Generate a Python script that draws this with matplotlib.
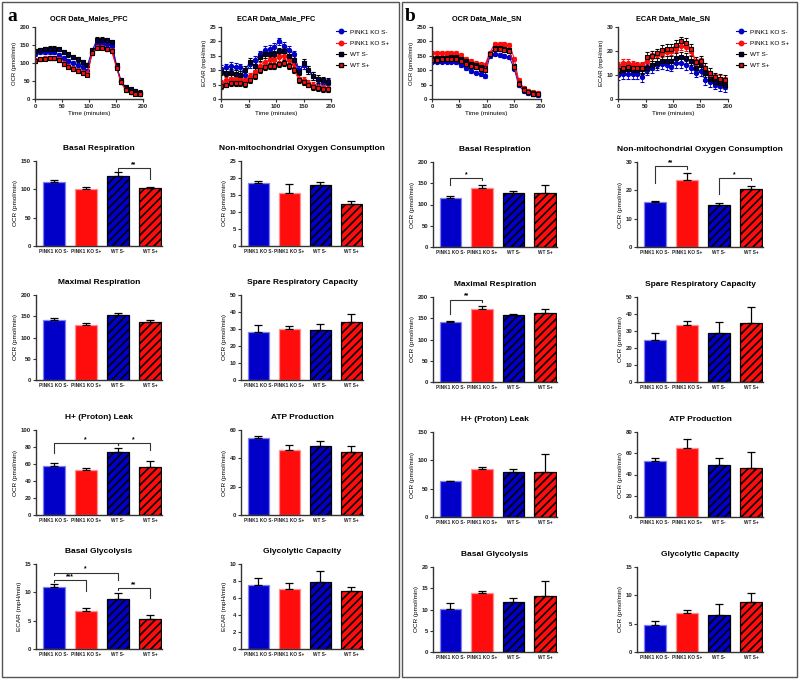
import matplotlib
matplotlib.use('Agg')
import matplotlib.pyplot as plt
from matplotlib.patches import Rectangle
from matplotlib.lines import Line2D

plt.rcParams['font.family'] = ['Liberation Sans', 'DejaVu Sans']
plt.rcParams['font.weight'] = 'bold'
plt.rcParams['hatch.linewidth'] = 1.2

W, H = 800, 679

GROUPS = ['PINK1 KO S-', 'PINK1 KO S+', 'WT S-', 'WT S+']

# time course (minutes)
TIME = [0, 9, 18, 27, 35, 44, 53, 62, 71, 80, 89, 97, 106, 115, 124, 133, 142, 151, 159, 168, 177, 186, 195]

# panel a - PFC
A_OCR_KO_SM = [126, 131, 131, 131, 131, 122, 114, 106, 99, 94, 89, 78, 128, 154, 154, 152, 147, 89, 50, 29, 23, 20, 17]
A_OCR_KO_SP = [108, 112, 114, 114, 114, 110, 99, 91, 85, 80, 76, 71, 131, 145, 145, 140, 135, 89, 48, 27, 20, 16, 14]
A_OCR_WT_SM = [134, 137, 139, 140, 140, 138, 131, 124, 117, 110, 103, 94, 135, 165, 165, 163, 158, 94, 52, 32, 27, 22, 18]
A_OCR_WT_SP = [106, 110, 112, 113, 113, 108, 97, 89, 82, 77, 73, 68, 128, 143, 143, 138, 133, 87, 46, 25, 19, 15, 13]
A_OCR_ERR = [6, 5, 6, 5]

A_ECAR_KO_SM = [10.5, 11, 11.5, 11.2, 11, 8.5, 12, 13.5, 15.5, 17, 17.5, 18, 20, 18.5, 17, 15.5, 10, 11.7, 10, 8, 6.5, 6, 5.5]
A_ECAR_KO_SP = [5.5, 6.5, 7, 6.8, 6.8, 6.5, 8, 9.5, 11.5, 13, 13.5, 13.5, 14.5, 15, 13.5, 12, 7, 6.5, 5.5, 4.8, 4.2, 4, 3.8]
A_ECAR_WT_SM = [9.5, 9.2, 9, 8.8, 8.5, 10, 13, 11.5, 14.5, 15.5, 15.5, 15.5, 16.5, 16.5, 15, 13.5, 9.5, 12.5, 10, 8, 7, 6.5, 6]
A_ECAR_WT_SP = [4.5, 5, 5.5, 5.5, 5.5, 5.2, 6.5, 8, 10, 11, 11.5, 11.5, 12, 12.5, 11.5, 10, 6.5, 6, 5, 4.2, 3.8, 3.5, 3.3]
A_ECAR_ERR = [1.3, 1.2, 1.3, 1.0]

# panel b - SN
B_OCR_KO_SM = [130, 130, 130, 130, 130, 128, 118, 108, 97, 92, 87, 80, 148, 155, 152, 150, 145, 105, 48, 28, 20, 16, 14]
B_OCR_KO_SP = [158, 161, 161, 161, 161, 161, 152, 140, 131, 126, 123, 118, 160, 192, 192, 192, 189, 140, 66, 37, 27, 23, 21]
B_OCR_WT_SM = [140, 142, 143, 144, 145, 146, 140, 132, 122, 117, 112, 107, 155, 178, 177, 175, 170, 115, 55, 33, 24, 20, 17]
B_OCR_WT_SP = [135, 137, 138, 140, 140, 138, 132, 123, 115, 110, 105, 100, 157, 172, 172, 170, 167, 112, 52, 32, 23, 19, 17]
B_OCR_ERR = [6, 7, 8, 6]

B_ECAR_KO_SM = [10, 10.5, 10.5, 10.5, 10.5, 9, 12, 13, 14, 14.5, 14, 13.5, 15, 15, 14, 13, 11, 11.5, 8, 7, 6, 5.5, 5]
B_ECAR_KO_SP = [14, 15, 15, 14.5, 14, 14, 16, 17.5, 18.5, 19, 19.5, 20, 21, 22, 21.5, 20, 15, 15.5, 12, 10, 9, 8.5, 7.5]
B_ECAR_WT_SM = [11.5, 12, 12.5, 12, 12, 12.5, 13, 14, 15, 16, 16, 16, 17, 17.5, 17, 16, 13, 14, 11, 8.5, 7, 6.5, 6]
B_ECAR_WT_SP = [12, 13, 13.5, 13, 13, 13, 17.5, 18, 19, 20.5, 21, 21, 22.5, 24, 23.5, 21, 15.5, 16, 13, 11, 9, 8.5, 8]
B_ECAR_ERR = [2, 1.5, 2, 2]

# bar summaries
A_TITLES = ['Basal Respiration', 'Non-mitochondrial Oxygen Consumption', 'Maximal Respiration',
            'Spare Respiratory Capacity', 'H+ (Proton) Leak', 'ATP Production',
            'Basal Glycolysis', 'Glycolytic Capacity']
A_YLABELS = ['OCR (pmol/min)'] * 6 + ['ECAR (mpH/min)'] * 2
A_MEANS = [[113, 100, 123, 102], [18.5, 15.6, 17.8, 12.5], [142, 130, 153, 136], [28.5, 30, 29.5, 34],
           [58, 53, 74, 57], [54.5, 46, 48.5, 44.5], [11, 6.7, 8.8, 5.3], [7.5, 7.1, 7.85, 6.8]]
A_ERRS = [[3, 5, 7, 2], [0.7, 2.7, 1.0, 0.6], [5, 3, 4, 6], [4, 1.5, 3.5, 5],
          [3, 2, 5, 6], [1.5, 3.5, 3.5, 4.5], [0.5, 0.5, 1.0, 0.7], [0.85, 0.7, 1.3, 0.55]]
A_YMAX = [150, 25, 200, 50, 100, 60, 15, 10]
A_YSTEP = [50, 5, 50, 10, 20, 20, 5, 2]
# (chart, bar i, bar j, line y, leg end i, leg end j, label)
A_SIG = [(0, 2, 3, 137, 132, 119, '**'),
         (4, 0, 2, 85, 73, 82, '*'), (4, 2, 3, 85, 82, 76, '*'),
         (6, 0, 2, 13.5, 13.1, 12.1, '*'), (6, 0, 1, 12.1, 11.8, 10.3, '***'),
         (6, 2, 3, 10.7, 10.4, 9.0, '**')]

B_TITLES = A_TITLES
B_YLABELS = ['OCR (pmol/min)'] * 8
B_MEANS = [[116, 139, 127, 127], [15.8, 23.5, 15, 20.3], [141, 172, 157, 162], [24.5, 33.5, 29, 35],
           [63, 85, 79, 80], [52.5, 64.5, 48.5, 46.5], [10.2, 13.8, 11.7, 13.1], [4.8, 6.9, 6.6, 8.9]]
B_ERRS = [[4, 7, 4, 19], [0.6, 2.6, 0.6, 1.2], [2, 8, 2, 10], [4.5, 2.5, 6.5, 9],
          [1, 4, 5, 32], [3.5, 9, 7, 15], [1.4, 0.6, 1.0, 3.7], [0.7, 0.5, 1.8, 1.6]]
B_YMAX = [200, 30, 200, 50, 150, 80, 20, 15]
B_YSTEP = [50, 10, 50, 10, 50, 20, 5, 5]
B_SIG = [(0, 0, 1, 162, 147, 157, '*'),
         (1, 0, 1, 28.6, 22.6, 27.6, '**'), (1, 2, 3, 24.4, 18.6, 23.5, '*'),
         (2, 0, 1, 194, 161, 188, '**')]

BLUE = '#0000c8'
RED = '#ff0d0d'
FACES = [BLUE, RED, BLUE, RED]
EDGES = ['#8080f0', '#ff9090', 'black', 'black']
HATCHES = [None, None, '////', '////']
AXC = '#333333'


def px_axes(fig, x0, y0, x1, y1):
    return fig.add_axes([x0 / W, 1 - y1 / H, (x1 - x0) / W, (y1 - y0) / H])


def style(ax):
    for s in ['top', 'right']:
        ax.spines[s].set_visible(False)
    for s in ['left', 'bottom']:
        ax.spines[s].set_linewidth(1.0)
        ax.spines[s].set_color(AXC)
    ax.tick_params(colors=AXC, width=0.8, length=2, pad=1.5, labelsize=4.3, labelcolor='#222222')


def line_chart(ax, series, errs, ymax, ystep, title, ylabel):
    specs = [dict(marker='o', color=BLUE, mfc=BLUE, mec=BLUE),
             dict(marker='o', color=RED, mfc=RED, mec=RED),
             dict(marker='s', color=BLUE, mfc='#000050', mec='black'),
             dict(marker='s', color=RED, mfc=RED, mec='black')]
    for vals, err, sp in zip(series, errs, specs):
        ax.errorbar(TIME, vals, yerr=err, marker=sp['marker'], color=sp['color'], mfc=sp['mfc'],
                    mec=sp['mec'], ms=3.0, mew=0.8, lw=0.7, elinewidth=0.6, ecolor=sp['mec'],
                    capsize=1.2, capthick=0.6)
    style(ax)
    ax.set_xlim(0, 200)
    ax.set_ylim(0, ymax)
    ax.set_xticks([0, 50, 100, 150, 200])
    ax.set_yticks(range(0, ymax + 1, ystep))
    ax.set_title(title, fontsize=5.3, fontweight='bold', pad=5)
    ax.set_ylabel(ylabel, fontsize=4.3, labelpad=2)
    ax.set_xlabel('Time (minutes)', fontsize=4.6, labelpad=1.5)


def bar_chart(ax, means, errs, ymax, ystep, title, ylabel):
    x = range(len(GROUPS))
    for i in x:
        ax.bar(i, means[i], width=0.68, color=FACES[i], edgecolor=EDGES[i],
               hatch=HATCHES[i], linewidth=0.9, zorder=2)
    ax.errorbar(list(x), means, yerr=[[0] * 4, errs], fmt='none', ecolor='black',
                elinewidth=0.9, capsize=3, capthick=0.9, zorder=3)
    style(ax)
    ax.set_xlim(-0.55, 3.38)
    ax.set_ylim(0, ymax)
    ax.set_yticks(range(0, ymax + 1, ystep))
    ax.set_xticks(list(x))
    ax.set_xticklabels(GROUPS, fontsize=3.4)
    ax.tick_params(axis='x', length=0, pad=2.5)
    ax.set_title(title, fontsize=6, fontweight='bold', pad=8)
    ax.set_ylabel(ylabel, fontsize=4.6, labelpad=2)


def sig(ax, i, j, y, yi, yj, label):
    ax.plot([i, i, j, j], [yi, y, y, yj], color='#333333', lw=0.8, zorder=4, clip_on=False)
    ax.text((i + j) / 2, y, label, ha='center', va='bottom', fontsize=4.8, zorder=4)


fig = plt.figure(figsize=(8, 6.79), dpi=100)

# panel frames
fig.add_artist(Rectangle((2 / W, 2 / H), 397 / W, 675 / H, transform=fig.transFigure,
                         fill=False, edgecolor='#555555', lw=1.0))
fig.add_artist(Rectangle((402 / W, 2 / H), 395 / W, 675 / H, transform=fig.transFigure,
                         fill=False, edgecolor='#555555', lw=1.0))
fig.text(7 / W, 1 - 21 / H, 'a', fontsize=14, fontweight='bold', family='Liberation Serif')
fig.text(405 / W, 1 - 21 / H, 'b', fontsize=14, fontweight='bold', family='Liberation Serif')

panels = [
    dict(ocr=[A_OCR_KO_SM, A_OCR_KO_SP, A_OCR_WT_SM, A_OCR_WT_SP], ocr_err=A_OCR_ERR,
         ecar=[A_ECAR_KO_SM, A_ECAR_KO_SP, A_ECAR_WT_SM, A_ECAR_WT_SP], ecar_err=A_ECAR_ERR,
         ocr_lim=(200, 50), ecar_lim=(25, 5), ocr_title='OCR Data_Males_PFC', ecar_title='ECAR Data_Male_PFC',
         titles=A_TITLES, ylabels=A_YLABELS, means=A_MEANS, errs=A_ERRS, ymax=A_YMAX, ystep=A_YSTEP,
         sigs=A_SIG, lines_x=[(35, 143), (221, 331)], bars_x=[(36, 162), (241, 363)],
         rows=[161, 295, 430, 564], leg_x=333),
    dict(ocr=[B_OCR_KO_SM, B_OCR_KO_SP, B_OCR_WT_SM, B_OCR_WT_SP], ocr_err=B_OCR_ERR,
         ecar=[B_ECAR_KO_SM, B_ECAR_KO_SP, B_ECAR_WT_SM, B_ECAR_WT_SP], ecar_err=B_ECAR_ERR,
         ocr_lim=(250, 50), ecar_lim=(30, 10), ocr_title='OCR Data_Male_SN', ecar_title='ECAR Data_Male_SN',
         titles=B_TITLES, ylabels=B_YLABELS, means=B_MEANS, errs=B_ERRS, ymax=B_YMAX, ystep=B_YSTEP,
         sigs=B_SIG, lines_x=[(432, 541), (618, 728)], bars_x=[(433, 557), (637, 763)],
         rows=[162, 297, 432, 567], leg_x=733),
]

for p in panels:
    ax = px_axes(fig, p['lines_x'][0][0], 27, p['lines_x'][0][1], 99)
    line_chart(ax, p['ocr'], p['ocr_err'], p['ocr_lim'][0], p['ocr_lim'][1], p['ocr_title'], 'OCR (pmol/min)')
    ax = px_axes(fig, p['lines_x'][1][0], 27, p['lines_x'][1][1], 99)
    line_chart(ax, p['ecar'], p['ecar_err'], p['ecar_lim'][0], p['ecar_lim'][1], p['ecar_title'], 'ECAR (mpH/min)')

    handles = [Line2D([], [], marker='o', color=BLUE, mfc=BLUE, mec=BLUE, ms=3.2, lw=0.8),
               Line2D([], [], marker='o', color=RED, mfc=RED, mec=RED, ms=3.2, lw=0.8),
               Line2D([], [], marker='s', color='black', mfc='#000050', mec='black', ms=3.2, lw=0.8),
               Line2D([], [], marker='s', color='black', mfc=RED, mec='black', ms=3.2, lw=0.8)]
    fig.legend(handles, GROUPS, loc='upper left', bbox_to_anchor=(p['leg_x'] / W, 1 - 26 / H),
               frameon=False, prop={'size': 4.6, 'weight': 'normal'}, handlelength=1.6,
               labelspacing=0.9, handletextpad=0.6, borderpad=0)

    for k in range(8):
        col = k % 2
        row = k // 2
        x0, x1 = p['bars_x'][col]
        top = p['rows'][row]
        ax = px_axes(fig, x0, top, x1, top + 85)
        bar_chart(ax, p['means'][k], p['errs'][k], p['ymax'][k], p['ystep'][k],
                  p['titles'][k], p['ylabels'][k])
        for s in p['sigs']:
            if s[0] == k:
                sig(ax, *s[1:])

fig.savefig('out.png', dpi=100)
